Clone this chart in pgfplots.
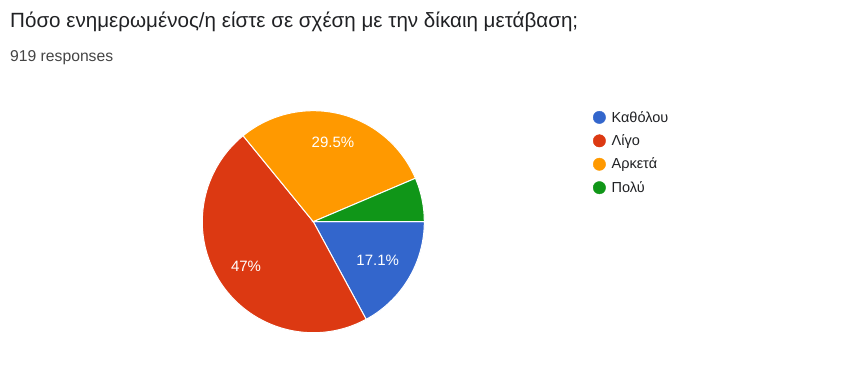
\documentclass[border=0pt]{standalone}
\usepackage{pgfplots}
\pgfplotsset{compat=1.18}
\usetikzlibrary{calc}
\usepackage{fontspec}
\setmainfont{Liberation Sans}
\definecolor{cBlue}{HTML}{3366CC}
\definecolor{cRed}{HTML}{DC3912}
\definecolor{cOrange}{HTML}{FF9900}
\definecolor{cGreen}{HTML}{109618}
\definecolor{cTitle}{HTML}{202124}
\definecolor{cSub}{HTML}{444444}
% data (percent)
\def\vA{17.1}% Καθόλου
\def\vB{47}% Λίγο
\def\vC{29.5}% Αρκετά
\def\vD{6.4}% Πολύ
\pgfmathsetmacro\aA{0}
\pgfmathsetmacro\aB{\aA-3.6*\vA}
\pgfmathsetmacro\aC{\aB-3.6*\vB}
\pgfmathsetmacro\aD{\aC-3.6*\vC}
\pgfmathsetmacro\aE{\aD-3.6*\vD}
\pgfmathsetmacro\mA{(\aA+\aB)/2}
\pgfmathsetmacro\mB{(\aB+\aC)/2}
\pgfmathsetmacro\mC{(\aC+\aD)/2}
\def\cx{313.3}
\def\cy{150.3}
\def\R{111}
\begin{document}
\begin{tikzpicture}
\begin{axis}[
  scale only axis, width=845pt, height=372pt,
  xmin=0, xmax=845, ymin=0, ymax=372,
  hide axis, clip=false,
  legend style={draw=none, fill=none, at={(axis cs:590,265)}, anchor=north west,
    font=\fontsize{14.5}{16}\selectfont, text=cTitle, row sep=7pt,
    /tikz/every odd column/.append style={column sep=4pt}},
  legend cell align=left,
]
\path (axis cs:0,0) rectangle (axis cs:845,372);
\addlegendimage{only marks, mark=*, mark size=6.2pt, color=cBlue}
\addlegendentry{Καθόλου}
\addlegendimage{only marks, mark=*, mark size=6.2pt, color=cRed}
\addlegendentry{Λίγο}
\addlegendimage{only marks, mark=*, mark size=6.2pt, color=cOrange}
\addlegendentry{Αρκετά}
\addlegendimage{only marks, mark=*, mark size=6.2pt, color=cGreen}
\addlegendentry{Πολύ}
\filldraw[fill=cBlue, draw=white, line width=1pt] (axis cs:\cx,\cy) -- ++(\aA:\R pt) arc[start angle=\aA, end angle=\aB, radius=\R pt] -- cycle;
\filldraw[fill=cRed, draw=white, line width=1pt] (axis cs:\cx,\cy) -- ++(\aB:\R pt) arc[start angle=\aB, end angle=\aC, radius=\R pt] -- cycle;
\filldraw[fill=cOrange, draw=white, line width=1pt] (axis cs:\cx,\cy) -- ++(\aC:\R pt) arc[start angle=\aC, end angle=\aD, radius=\R pt] -- cycle;
\filldraw[fill=cGreen, draw=white, line width=1pt] (axis cs:\cx,\cy) -- ++(\aD:\R pt) arc[start angle=\aD, end angle=\aE, radius=\R pt] -- cycle;
\node[text=white, font=\fontsize{15}{16}\selectfont] at ($(axis cs:\cx,\cy)+(\mA:75pt)$) {17.1\%};
\node[text=white, font=\fontsize{15}{16}\selectfont] at ($(axis cs:\cx,\cy)+(\mB:81pt)$) {47\%};
\node[text=white, font=\fontsize{15}{16}\selectfont] at ($(axis cs:\cx,\cy)+(\mC:82pt)$) {29.5\%};
\node[anchor=base west, text=cTitle, font=\fontsize{20.6}{22}\selectfont, inner sep=0pt] at (axis cs:10,344.3) {Πόσο ενημερωμένος/η είστε σε σχέση με την δίκαιη μετάβαση;};
\node[anchor=base west, text=cSub, font=\fontsize{15.7}{16}\selectfont, inner sep=0pt] at (axis cs:10,310.3) {919 responses};
\end{axis}
\end{tikzpicture}
\end{document}
